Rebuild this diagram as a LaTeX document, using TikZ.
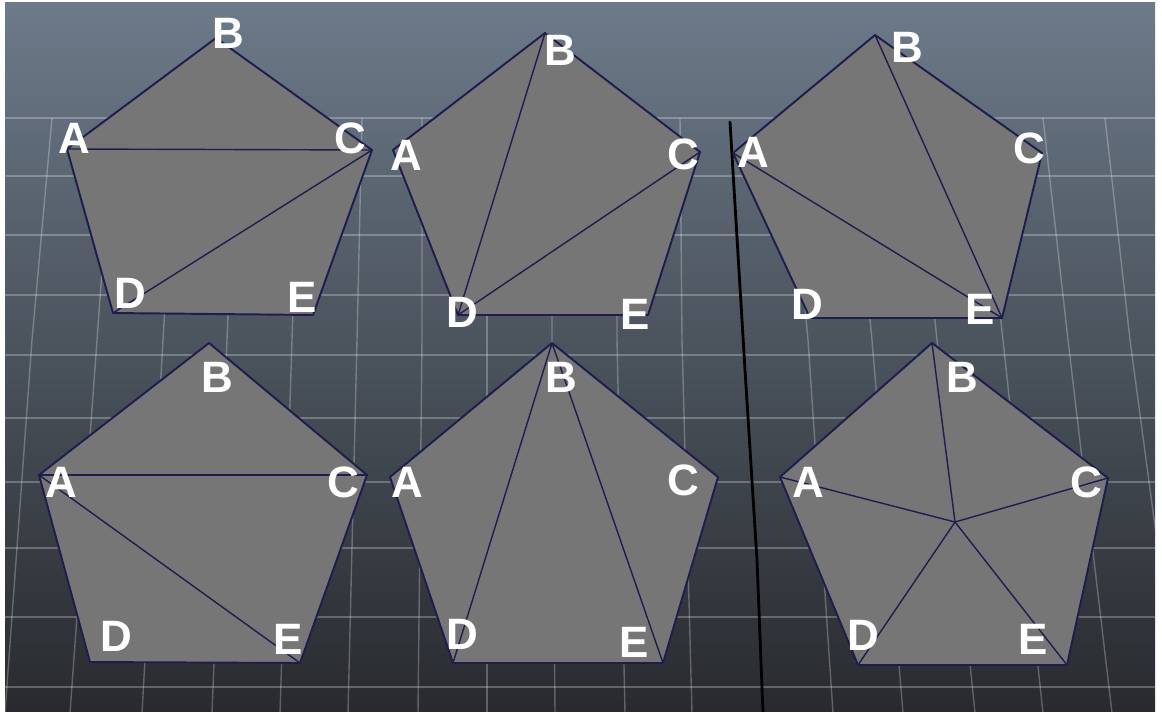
\documentclass[tikz,border=0pt]{standalone}
\usepackage{fontspec}
\setsansfont{Liberation Sans}
\usepackage{tikz}
\usepackage{xcolor}
\definecolor{vptop}{RGB}{108,122,137}
\definecolor{vpmid}{RGB}{68,76,86}
\definecolor{vpbot}{RGB}{40,42,46}
\definecolor{facegray}{RGB}{119,118,118}
\definecolor{edgeblue}{RGB}{30,30,78}

\begin{document}
\begin{tikzpicture}[x=0.02cm,y=-0.02cm,line cap=round,line join=round,
  face/.style={fill=facegray},
  rim/.style={draw=edgeblue,line width=1.1pt},
  diag/.style={draw=edgeblue,line width=0.8pt},
  lbl/.style={text=white,inner sep=0pt,font=\sffamily\bfseries\fontsize{25}{25}\selectfont},
  gridln/.style={draw=white,opacity=0.26,line width=0.8pt}]
% viewport background
\fill[white] (0,0) rectangle (1162,713);
\shade[top color=vptop,middle color=vpmid,bottom color=vpbot] (5,3) rectangle (1155,711);
\begin{scope}
\clip (5,3) rectangle (1155,711);
\draw[gridln] (5,118) -- (1155,118);
\draw[gridln] (5,176) -- (1155,176);
\draw[gridln] (5,235) -- (1155,235);
\draw[gridln] (5,295) -- (1155,295);
\draw[gridln] (5,355) -- (1155,355);
\draw[gridln] (5,418) -- (1155,418);
\draw[gridln] (5,482) -- (1155,482);
\draw[gridln] (5,548) -- (1155,548);
\draw[gridln] (5,617) -- (1155,617);
\draw[gridln] (5,687) -- (1155,687);
\draw[gridln] (52,118) -- (32,340) -- (5,713);
\draw[gridln] (113,118) -- (97,340) -- (70,713);
\draw[gridln] (176,118) -- (163,340) -- (142,713);
\draw[gridln] (236,118) -- (227,340) -- (212,713);
\draw[gridln] (299,118) -- (292,340) -- (280,713);
\draw[gridln] (362,118) -- (357,340) -- (348,713);
\draw[gridln] (422,118) -- (422,340) -- (418,713);
\draw[gridln] (487,118) -- (487,340) -- (487,713);
\draw[gridln] (552,118) -- (552,340) -- (555,713);
\draw[gridln] (617,118) -- (617,340) -- (625,713);
\draw[gridln] (680,118) -- (682,340) -- (692,713);
\draw[gridln] (787,118) -- (808,340) -- (833,713);
\draw[gridln] (850,118) -- (872,340) -- (903,713);
\draw[gridln] (914,118) -- (937,340) -- (975,713);
\draw[gridln] (978,118) -- (1003,340) -- (1043,713);
\draw[gridln] (1043,118) -- (1068,340) -- (1112,713);
\draw[gridln] (1105,118) -- (1130,340) -- (1180,713);
\draw[black,line width=1.6pt] (730,122) -- (745,370) -- (757,560) -- (763,713);
\end{scope}

% top left: A-C, C-D
\coordinate (A1) at (67,149);
\coordinate (B1) at (216,38);
\coordinate (C1) at (372,150);
\coordinate (D1) at (113,313);
\coordinate (E1) at (313,315);
\fill[face] (A1) -- (B1) -- (C1) -- (E1) -- (D1) -- cycle;
\draw[diag] (A1) -- (C1);
\draw[diag] (C1) -- (D1);
\draw[rim] (A1) -- (B1) -- (C1) -- (E1) -- (D1) -- cycle;
\node[lbl] (la1) at (74,138) {A};
\node[lbl] (lb1) at (228,33) {B};
\node[lbl] (lc1) at (350,138) {C};
\node[lbl] (ld1) at (130,293) {D};
\node[lbl] (le1) at (302,297) {E};

% top middle: B-D, C-D
\coordinate (A2) at (393,150);
\coordinate (B2) at (545,33);
\coordinate (C2) at (700,152);
\coordinate (D2) at (458,315);
\coordinate (E2) at (648,315);
\fill[face] (A2) -- (B2) -- (C2) -- (E2) -- (D2) -- cycle;
\draw[diag] (B2) -- (D2);
\draw[diag] (C2) -- (D2);
\draw[rim] (A2) -- (B2) -- (C2) -- (E2) -- (D2) -- cycle;
\node[lbl] (la2) at (406,155) {A};
\node[lbl] (lb2) at (560,50) {B};
\node[lbl] (lc2) at (683,154) {C};
\node[lbl] (ld2) at (462,312) {D};
\node[lbl] (le2) at (635,314) {E};

% top right: A-E, B-E
\coordinate (A3) at (733,153);
\coordinate (B3) at (875,35);
\coordinate (C3) at (1042,153);
\coordinate (D3) at (810,318);
\coordinate (E3) at (1002,318);
\fill[face] (A3) -- (B3) -- (C3) -- (E3) -- (D3) -- cycle;
\draw[diag] (A3) -- (E3);
\draw[diag] (B3) -- (E3);
\draw[rim] (A3) -- (B3) -- (C3) -- (E3) -- (D3) -- cycle;
\node[lbl] (la3) at (753,152) {A};
\node[lbl] (lb3) at (907,47) {B};
\node[lbl] (lc3) at (1029,148) {C};
\node[lbl] (ld3) at (807,304) {D};
\node[lbl] (le3) at (980,309) {E};

% bottom left: A-C, A-E
\coordinate (A4) at (39,475);
\coordinate (B4) at (209,343);
\coordinate (C4) at (367,475);
\coordinate (D4) at (90,662);
\coordinate (E4) at (300,663);
\fill[face] (A4) -- (B4) -- (C4) -- (E4) -- (D4) -- cycle;
\draw[diag] (A4) -- (C4);
\draw[diag] (A4) -- (E4);
\draw[rim] (A4) -- (B4) -- (C4) -- (E4) -- (D4) -- cycle;
\node[lbl] (la4) at (61,482) {A};
\node[lbl] (lb4) at (217,377) {B};
\node[lbl] (lc4) at (343,482) {C};
\node[lbl] (ld4) at (116,636) {D};
\node[lbl] (le4) at (288,639) {E};

% bottom middle: B-D, B-E
\coordinate (A5) at (390,477);
\coordinate (B5) at (552,343);
\coordinate (C5) at (718,477);
\coordinate (D5) at (453,663);
\coordinate (E5) at (663,663);
\fill[face] (A5) -- (B5) -- (C5) -- (E5) -- (D5) -- cycle;
\draw[diag] (B5) -- (D5);
\draw[diag] (B5) -- (E5);
\draw[rim] (A5) -- (B5) -- (C5) -- (E5) -- (D5) -- cycle;
\node[lbl] (la5) at (407,482) {A};
\node[lbl] (lb5) at (561,377) {B};
\node[lbl] (lc5) at (683,480) {C};
\node[lbl] (ld5) at (462,634) {D};
\node[lbl] (le5) at (634,642) {E};

% bottom right: fan from inner point
\coordinate (A6) at (780,477);
\coordinate (B6) at (932,343);
\coordinate (C6) at (1108,478);
\coordinate (D6) at (858,665);
\coordinate (E6) at (1067,665);
\coordinate (O6) at (955,522);
\fill[face] (A6) -- (B6) -- (C6) -- (E6) -- (D6) -- cycle;
\draw[diag] (O6) -- (A6);
\draw[diag] (O6) -- (B6);
\draw[diag] (O6) -- (C6);
\draw[diag] (O6) -- (D6);
\draw[diag] (O6) -- (E6);
\draw[rim] (A6) -- (B6) -- (C6) -- (E6) -- (D6) -- cycle;
\node[lbl] (la6) at (808,482) {A};
\node[lbl] (lb6) at (962,377) {B};
\node[lbl] (lc6) at (1086,482) {C};
\node[lbl] (ld6) at (863,635) {D};
\node[lbl] (le6) at (1033,639) {E};
\end{tikzpicture}
\end{document}
